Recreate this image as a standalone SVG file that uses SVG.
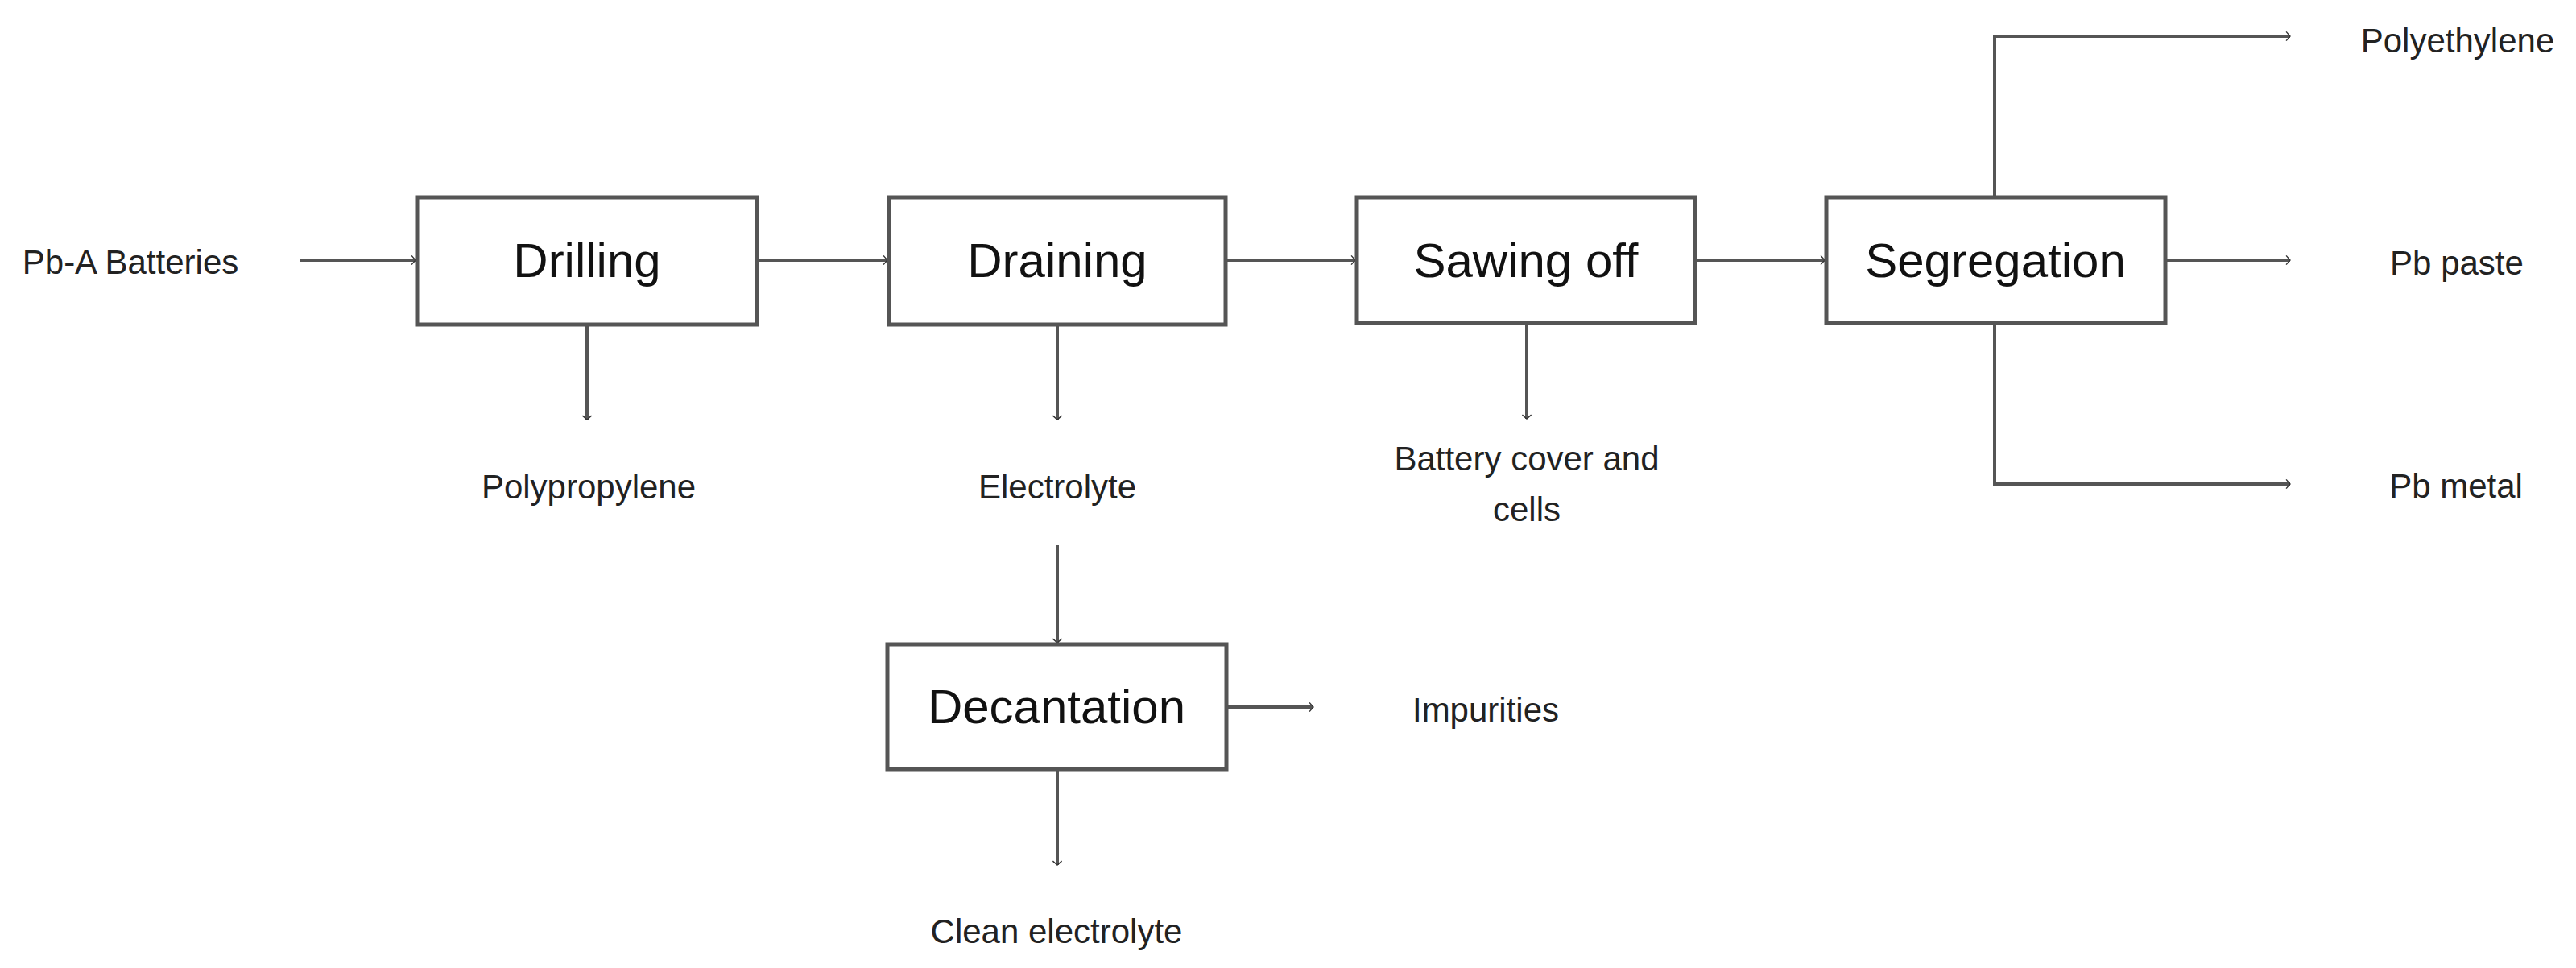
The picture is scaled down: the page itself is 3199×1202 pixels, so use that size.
<svg xmlns="http://www.w3.org/2000/svg" width="3199" height="1202" viewBox="0 0 3199 1202">
<style>
.box{fill:#fff;stroke:#555;stroke-width:5}
.bl{font-family:"Liberation Sans",Arial,sans-serif;font-size:60px;fill:#111;text-anchor:middle}
.lb{font-family:"Liberation Sans",Arial,sans-serif;font-size:42px;fill:#222;text-anchor:middle}
.c{fill:none;stroke:#555;stroke-width:4;marker-end:url(#a)}
</style>
<defs>
<marker id="a" viewBox="0 0 20 20" refX="18" refY="10" markerWidth="7" markerHeight="7" markerUnits="userSpaceOnUse" orient="auto" overflow="visible">
<path d="M4 -6 L18 10 L4 26" fill="none" stroke="#333" stroke-width="4"/>
</marker>
</defs>
<rect width="3199" height="1202" fill="#fff"/>
<g id="connectors">
<path class="c" d="M373 323 H516"/>
<path class="c" d="M940 323 H1102"/>
<path class="c" d="M1522 323 H1683"/>
<path class="c" d="M2105 323 H2266"/>
<path class="c" d="M2689 323 H2844"/>
<path class="c" d="M2477 245 V45 H2844"/>
<path class="c" d="M2477 401 V601 H2844"/>
<path class="c" d="M729 403 V521"/>
<path class="c" d="M1313 403 V521"/>
<path class="c" d="M1896 401 V520"/>
<path class="c" d="M1313 677 V798"/>
<path class="c" d="M1523 878 H1631"/>
<path class="c" d="M1313 955 V1074"/>
</g>
<g id="drilling"><rect class="box" x="518" y="245" width="422" height="158"/><text class="bl" x="729" y="344">Drilling</text></g>
<g id="draining"><rect class="box" x="1104" y="245" width="418" height="158"/><text class="bl" x="1313" y="344">Draining</text></g>
<g id="sawing"><rect class="box" x="1685" y="245" width="420" height="156"/><text class="bl" x="1895" y="344">Sawing off</text></g>
<g id="segregation"><rect class="box" x="2268" y="245" width="421" height="156"/><text class="bl" x="2478" y="344">Segregation</text></g>
<g id="decantation"><rect class="box" x="1102" y="800" width="421" height="155"/><text class="bl" x="1312" y="898">Decantation</text></g>
<g id="labels">
<text class="lb" x="162" y="340">Pb-A Batteries</text>
<text class="lb" x="731" y="619">Polypropylene</text>
<text class="lb" x="1313" y="619">Electrolyte</text>
<text class="lb" x="1896" y="584">Battery cover and</text>
<text class="lb" x="1896" y="647">cells</text>
<text class="lb" x="3052" y="65">Polyethylene</text>
<text class="lb" x="3051" y="341">Pb paste</text>
<text class="lb" x="3050" y="618">Pb metal</text>
<text class="lb" x="1845" y="896">Impurities</text>
<text class="lb" x="1312" y="1171">Clean electrolyte</text>
</g>
</svg>
